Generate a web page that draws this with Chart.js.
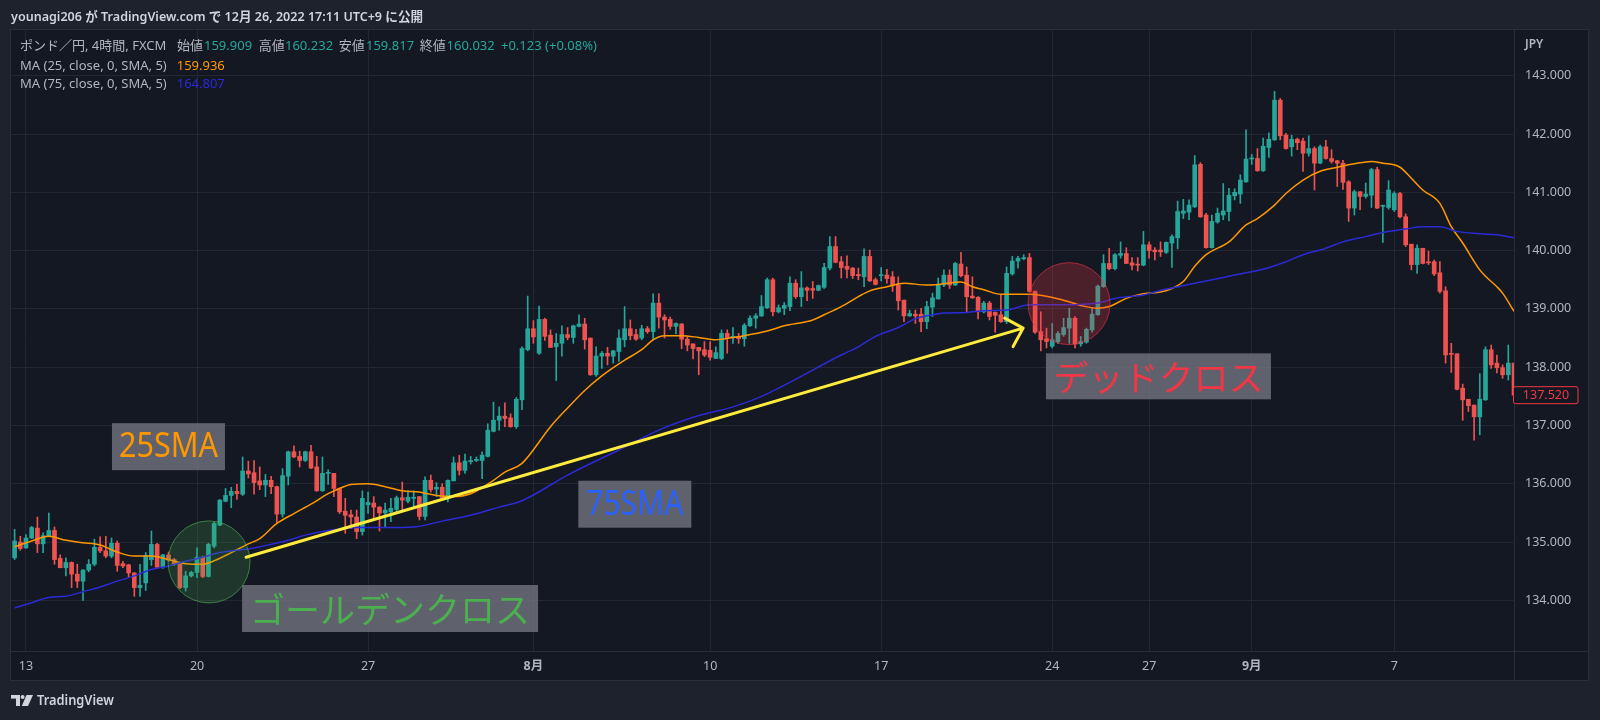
<!DOCTYPE html>
<html>
<head>
<meta charset="utf-8">
<title>GBPJPY 4h</title>
<script src="https://cdn.jsdelivr.net/npm/chart.js@4.4.1/dist/chart.umd.min.js"></script>
<style>
html,body{margin:0;padding:0;background:#1e222d}
canvas{display:block}
</style>
</head>
<body>
<canvas id="chart" width="1600" height="720"></canvas>
<script>
// time axis: candle index of each day label
var dayLabels = ["13", "20", "27", "8月", "10", "17", "24", "27", "9月", "7"];
var dayTickIdx = [2, 32, 62, 91, 122, 152, 182, 199, 217, 242];
var priceTicks = [134, 135, 136, 137, 138, 139, 140, 141, 142, 143];

// 4h candles, GBP/JPY (FXCM)
var openP = [
134.73,135.00,134.90,135.07,135.24,134.97,135.10,135.20,134.72,134.56,
134.65,134.45,134.33,134.52,134.62,134.91,134.85,134.76,134.98,134.63,
134.61,134.47,134.22,134.30,134.70,134.96,134.57,134.78,134.70,134.62,
134.22,134.42,134.48,134.74,134.41,134.93,135.29,135.70,135.80,135.87,
135.82,136.22,136.19,136.05,135.98,136.06,135.95,135.48,136.13,136.55,
136.47,136.40,136.55,136.29,135.88,136.18,136.18,135.92,135.53,135.47,
135.43,135.18,135.64,135.67,135.60,135.50,135.52,135.56,135.76,135.70,
135.75,135.78,135.44,136.06,135.91,135.94,135.75,136.05,136.36,136.23,
136.38,136.40,136.40,136.47,136.90,137.09,137.16,137.13,136.98,137.44,
138.30,138.66,138.24,138.82,138.55,138.35,138.41,138.56,138.51,138.70,
138.74,138.50,137.87,138.19,138.24,138.19,138.27,138.47,138.66,138.56,
138.50,138.66,138.61,139.10,138.86,138.82,138.70,138.74,138.48,138.40,
138.34,138.30,138.29,138.15,138.15,138.58,138.51,138.53,138.49,138.71,
138.84,138.88,139.02,139.50,138.95,139.01,139.04,139.44,139.21,139.36,
139.35,139.32,139.37,139.70,140.07,139.81,139.73,139.70,139.59,139.55,
139.90,139.50,139.57,139.58,139.55,139.41,139.15,138.88,138.91,138.91,
138.78,139.03,139.17,139.41,139.58,139.41,139.77,139.58,139.22,139.20,
138.95,139.10,138.94,138.90,138.78,139.60,139.82,139.86,139.88,139.30,
138.61,138.49,138.36,138.44,138.56,138.67,138.84,138.40,138.43,138.64,
138.90,139.38,139.78,139.69,139.92,139.95,139.79,139.76,139.75,140.10,
140.01,140.01,139.97,140.13,140.22,140.64,140.66,140.75,141.48,140.61,
140.05,140.49,140.61,140.67,140.94,140.97,141.18,141.57,141.58,141.37,
141.77,141.90,142.58,141.98,141.78,141.91,141.88,141.67,141.75,141.50,
141.78,141.58,141.54,141.50,141.18,140.73,141.01,140.93,140.95,141.39,
140.76,140.74,140.70,140.98,140.58,140.11,139.76,140.04,139.80,139.81,
139.62,139.31,138.23,138.23,137.64,137.45,137.35,137.15,137.44,138.30,
138.07,137.99,137.87,138.07];
var highP = [
135.22,135.10,135.13,135.27,135.43,135.16,135.50,135.26,134.78,134.73,
134.66,134.62,134.53,134.70,135.05,135.09,135.10,135.07,135.02,134.67,
134.62,134.48,134.62,134.82,135.19,134.98,134.79,134.83,134.72,134.64,
134.50,134.50,134.90,134.76,134.98,135.34,135.73,135.92,135.94,135.99,
136.46,136.39,136.40,136.29,136.16,136.13,135.96,136.26,136.56,136.65,
136.56,136.56,136.66,136.47,136.46,136.24,136.18,135.93,135.75,135.55,
135.55,135.88,135.86,135.78,135.61,135.67,135.75,135.79,136.03,135.88,
135.88,135.78,136.12,136.15,136.02,136.00,136.07,136.46,136.49,136.51,
136.47,136.46,136.55,137.03,137.40,137.32,137.39,137.20,137.48,138.35,
139.22,138.80,139.05,138.84,138.64,138.58,138.71,138.68,138.72,138.90,
138.84,138.50,138.35,138.27,138.34,138.29,138.64,139.04,138.81,138.65,
138.72,138.70,139.26,139.26,138.90,138.86,138.76,138.75,138.52,138.40,
138.34,138.44,138.44,138.35,138.64,138.64,138.68,138.58,138.75,138.88,
138.92,139.23,139.53,139.53,139.07,139.11,139.55,139.50,139.64,139.38,
139.47,139.41,139.78,140.24,140.24,139.90,139.91,139.71,139.70,140.03,
140.01,139.53,139.71,139.68,139.64,139.55,139.15,138.98,138.98,139.01,
139.13,139.27,139.53,139.67,139.67,139.80,139.97,139.72,139.55,139.21,
139.13,139.13,138.95,139.24,139.72,139.90,139.90,139.93,139.95,139.31,
138.95,138.67,138.75,138.61,138.84,139.01,138.87,138.53,138.67,139.01,
139.41,139.93,140.04,139.95,140.15,140.05,139.88,139.88,140.33,140.15,
140.05,140.15,140.15,140.27,140.85,140.88,140.87,141.63,141.51,140.64,
140.61,140.73,141.15,141.07,141.06,141.30,142.07,141.65,141.75,141.93,
142.02,142.73,142.61,142.01,141.98,141.93,141.93,141.97,141.78,141.81,
141.89,141.73,141.55,141.55,141.20,141.04,141.01,141.16,141.41,141.43,
140.78,141.20,141.01,141.00,140.63,140.11,140.10,140.04,139.99,139.84,
139.81,139.38,138.41,138.23,137.71,137.45,137.35,137.89,138.35,138.38,
138.21,138.04,138.38,138.07];
var lowP = [
134.70,134.86,134.89,135.06,134.82,134.82,135.09,134.62,134.56,134.42,
134.22,134.22,134.00,134.49,134.59,134.82,134.73,134.73,134.50,134.56,
134.40,134.07,134.07,134.17,134.60,134.55,134.55,134.67,134.60,134.20,
134.16,134.40,134.39,134.39,134.40,134.90,135.28,135.69,135.59,135.73,
135.80,136.10,135.82,135.90,135.78,135.83,135.32,135.43,135.98,136.45,
136.29,136.38,136.26,135.87,135.87,135.99,135.78,135.49,135.15,135.23,
135.06,135.12,135.49,135.40,135.19,135.26,135.35,135.50,135.55,135.67,
135.60,135.38,135.38,135.86,135.78,135.72,135.69,136.05,136.15,136.18,
136.34,136.38,136.09,136.46,136.89,136.92,136.98,136.97,136.95,137.27,
138.28,138.41,138.22,138.46,138.34,137.77,138.19,138.47,138.41,138.69,
138.31,137.86,137.84,137.98,138.04,138.07,138.10,138.35,138.47,138.46,
138.47,138.58,138.47,138.67,138.50,138.65,138.57,138.32,138.28,138.14,
137.87,138.18,138.12,138.15,138.13,138.24,138.41,138.41,138.36,138.70,
138.67,138.87,139.01,138.88,138.93,138.90,138.97,139.18,139.04,139.14,
139.18,139.31,139.35,139.67,139.79,139.53,139.53,139.52,139.50,139.38,
139.47,139.41,139.48,139.44,139.30,138.98,138.78,138.87,138.75,138.61,
138.66,138.87,139.17,139.38,139.35,139.40,139.55,138.95,139.18,138.83,
138.93,138.81,138.60,138.77,138.75,139.58,139.70,139.84,139.29,138.58,
138.28,138.33,138.33,138.41,138.53,138.41,138.33,138.36,138.41,138.60,
138.89,139.37,139.67,139.67,139.87,139.78,139.67,139.65,139.74,139.87,
139.84,139.90,139.95,139.71,140.03,140.55,140.53,140.74,140.57,140.04,
140.04,140.47,140.53,140.51,140.87,140.81,141.17,141.48,141.36,141.36,
141.60,141.89,141.90,141.74,141.62,141.73,141.36,141.62,141.04,141.49,
141.57,141.50,141.10,141.05,140.50,140.61,140.70,140.90,140.74,140.72,
140.14,140.71,140.67,140.56,140.07,139.67,139.61,139.77,139.76,139.57,
139.27,138.07,137.91,137.61,137.09,137.24,136.75,136.84,137.43,137.98,
137.90,137.81,137.78,137.50];
var closeP = [
135.02,134.89,135.07,135.25,134.97,135.11,135.20,134.70,134.56,134.65,
134.45,134.33,134.52,134.62,134.91,134.85,134.76,134.98,134.60,134.59,
134.47,134.22,134.26,134.77,134.96,134.57,134.78,134.69,134.62,134.22,
134.42,134.48,134.74,134.41,134.96,135.32,135.72,135.80,135.87,135.83,
136.22,136.17,136.02,135.98,136.06,135.95,135.48,136.14,136.55,136.46,
136.40,136.55,136.27,135.88,136.18,136.19,135.92,135.52,135.46,135.43,
135.18,135.75,135.68,135.60,135.50,135.55,135.58,135.76,135.72,135.77,
135.77,135.44,136.06,135.90,135.94,135.75,136.06,136.36,136.23,136.39,
136.40,136.42,136.49,136.92,137.09,137.16,137.12,136.98,137.45,138.32,
138.66,138.52,138.82,138.53,138.34,138.41,138.56,138.51,138.71,138.74,
138.47,137.87,138.19,138.24,138.19,138.28,138.50,138.66,138.54,138.48,
138.66,138.61,139.10,138.86,138.81,138.70,138.75,138.48,138.38,138.32,
138.28,138.21,138.17,138.25,138.58,138.50,138.53,138.49,138.72,138.84,
138.88,139.04,139.50,138.95,139.02,139.06,139.44,139.21,139.36,139.32,
139.32,139.40,139.71,140.07,139.80,139.71,139.68,139.57,139.57,139.90,
139.48,139.42,139.58,139.52,139.40,139.14,138.88,138.92,138.88,138.78,
139.04,139.19,139.42,139.58,139.41,139.78,139.57,139.21,139.19,138.95,
139.10,138.87,138.89,138.78,139.61,139.82,139.87,139.88,139.30,138.60,
138.47,138.44,138.47,138.58,138.68,138.84,138.40,138.44,138.65,138.91,
139.39,139.78,139.69,139.93,139.95,139.78,139.75,139.75,140.10,140.00,
139.98,139.98,140.14,140.24,140.67,140.68,140.78,141.47,140.58,140.05,
140.50,140.64,140.68,140.95,141.00,141.21,141.57,141.59,141.37,141.79,
141.91,142.58,141.97,141.75,141.91,141.85,141.67,141.75,141.50,141.78,
141.58,141.53,141.50,141.17,140.73,141.01,140.93,140.97,141.39,140.73,
140.77,141.04,140.98,140.58,140.10,139.76,140.04,139.78,139.79,139.60,
139.30,138.21,138.22,137.62,137.44,137.34,137.15,137.45,138.30,138.04,
137.99,137.87,138.07,137.52];

// moving averages at these candle indices
var ma25Idx = [0,3,6,9,12,15,18,21,24,27,30,33,35,38,41,43,46,49,52,55,57,59,62,65,68,71,74,77,80,84,86,89,94,97,100,103,107,110,112,114,117,120,123,126,128,132,135,140,142,145,148,150,153,156,160,162,166,168,170,173,178,184,187,190,192,195,198,201,203,205,207,209,213,216,218,221,223,226,229,232,235,238,240,243,245,247,250,252,254,257,258,260,261,263];
var ma25Val = [134.92,135.02,135.10,135.03,134.99,134.95,134.83,134.76,134.76,134.70,134.63,134.62,134.68,134.82,134.97,135.06,135.32,135.49,135.65,135.83,135.92,135.99,136.00,135.95,135.88,135.86,135.80,135.78,135.83,136.06,136.20,136.35,136.98,137.30,137.60,137.85,138.12,138.30,138.47,138.54,138.54,138.51,138.47,138.51,138.54,138.62,138.71,138.81,138.90,139.04,139.21,139.31,139.38,139.44,139.41,139.42,139.46,139.38,139.33,139.25,139.25,139.15,139.06,139.01,139.04,139.18,139.26,139.29,139.35,139.47,139.73,139.93,140.15,140.44,140.55,140.78,140.98,141.21,141.36,141.43,141.49,141.53,141.50,141.43,141.24,141.04,140.81,140.41,140.13,139.67,139.56,139.38,139.27,138.96];
var ma75Idx = [0,3,6,9,12,15,18,21,24,27,30,33,36,39,42,48,51,55,57,60,65,70,75,80,85,89,97,106,113,120,126,131,145,148,151,155,158,161,163,167,170,174,178,184,190,193,198,202,207,212,216,219,223,226,230,233,237,240,244,247,250,253,257,260,263];
var ma75Val = [133.87,133.96,134.05,134.07,134.15,134.23,134.33,134.42,134.53,134.59,134.67,134.74,134.82,134.86,134.90,135.03,135.12,135.20,135.22,135.25,135.25,135.26,135.36,135.46,135.60,135.71,136.15,136.58,136.92,137.17,137.32,137.50,138.21,138.35,138.53,138.68,138.83,138.90,138.93,138.94,138.97,138.98,139.07,139.07,139.10,139.18,139.24,139.34,139.44,139.54,139.62,139.68,139.81,139.93,140.04,140.15,140.24,140.31,140.37,140.41,140.41,140.33,140.29,140.27,140.22];

!function() {
    "use strict";
    var UI = '"Noto Sans", "Noto Sans CJK JP", sans-serif',
        JP = '"Noto Sans CJK JP", "Noto Sans", sans-serif',
        UP = "#26a69a", DN = "#ef5350", AXIS = "#b2b5be", GRID = "#232733",
        PANE = "#141823", LINE = "#2a2e39";

    var idx = openP.map(function(o, i) { return i });
    var col = idx.map(function(i) { return closeP[i] >= openP[i] ? UP : DN });

    // drawings on the chart, anchored at candle index / price
    var circles = [
        { i: 34.1, v: 134.66, r: 41, fill: "rgba(76,175,80,0.2)", line: "rgba(76,175,80,0.65)" },
        { i: 184.95, v: 139.09, r: 41, fill: "rgba(242,54,69,0.25)", line: "rgba(242,54,69,0.6)" }
    ];
    var arrow = { i0: 40.6, v0: 134.74, i1: 176.9, v1: 138.67, color: "#ffeb3b" };
    var boxes = [
        { t: "25SMA", i: 17.08, v: 137.04, w: 113, h: 47, c: "#ff9800", f: '34px "Noto Sans"', tw: 99 },
        { t: "75SMA", i: 98.88, v: 136.053, w: 113, h: 47, c: "#2962ff", f: '34px "Noto Sans"', tw: 97 },
        { t: "ゴールデンクロス", i: 39.9, v: 134.264, w: 296, h: 47, c: "#4caf50", f: "35px " + JP, tw: 282 },
        { t: "デッドクロス", i: 180.9, v: 138.238, w: 225, h: 46, c: "#f23645", f: "35px " + JP, tw: 212 }
    ];

    function text(ctx, s, x, y, color, font, align, maxW) {
        ctx.fillStyle = color;
        ctx.font = font;
        ctx.textAlign = align || "left";
        ctx.textBaseline = "middle";
        if (maxW) ctx.fillText(s, x, y, maxW); else ctx.fillText(s, x, y);
    }

    var decor = {
        id: "decor",
        beforeDraw: function(c) {
            var o = c.ctx;
            o.save();
            o.fillStyle = "#1e222d";
            o.fillRect(0, 0, c.width, c.height);
            o.fillStyle = PANE;
            o.fillRect(11, 30, 1577, 650);
            o.restore();
        },
        afterDatasetsDraw: function(c) {
            var o = c.ctx, xs = c.scales.x, ys = c.scales.y;
            o.save();
            circles.forEach(function(k) {
                o.beginPath();
                o.arc(xs.getPixelForValue(k.i), ys.getPixelForValue(k.v), k.r, 0, 2 * Math.PI);
                o.fillStyle = k.fill;
                o.fill();
                o.lineWidth = 1;
                o.strokeStyle = k.line;
                o.stroke();
            });
            // yellow arrow
            var x0 = xs.getPixelForValue(arrow.i0), y0 = ys.getPixelForValue(arrow.v0),
                x1 = xs.getPixelForValue(arrow.i1), y1 = ys.getPixelForValue(arrow.v1),
                a = Math.atan2(y1 - y0, x1 - x0);
            o.strokeStyle = arrow.color;
            o.lineWidth = 3;
            o.lineCap = "round";
            o.lineJoin = "round";
            o.beginPath();
            o.moveTo(x0, y0);
            o.lineTo(x1, y1);
            o.moveTo(x1 - 21 * Math.cos(a - Math.PI / 4), y1 - 21 * Math.sin(a - Math.PI / 4));
            o.lineTo(x1, y1);
            o.lineTo(x1 - 21 * Math.cos(a + Math.PI / 4), y1 - 21 * Math.sin(a + Math.PI / 4));
            o.stroke();
            boxes.forEach(function(b) {
                var bx = xs.getPixelForValue(b.i), by = ys.getPixelForValue(b.v);
                o.fillStyle = "rgba(120,123,134,0.75)";
                o.fillRect(bx, by, b.w, b.h);
                text(o, b.t, bx + b.w / 2, by + b.h / 2 + 1, b.c, b.f, "center", b.tw);
            });
            o.restore();
        },
        afterDraw: function(c) {
            var o = c.ctx, ys = c.scales.y;
            o.save();
            // pane frame and axis separators
            o.strokeStyle = LINE;
            o.lineWidth = 1;
            o.strokeRect(10.5, 29.5, 1578, 651);
            o.beginPath();
            o.moveTo(1514.5, 30); o.lineTo(1514.5, 680);
            o.moveTo(11, 651.5); o.lineTo(1588, 651.5);
            o.stroke();

            text(o, "younagi206 が TradingView.com で 12月 26, 2022 17:11 UTC+9 に公開", 11, 17.5, "#d1d4dc", "600 13px " + UI, "left", 412);

            var g = "#26a69a";
            [
                [20, 46.7, "ポンド／円, 4時間, FXCM", AXIS], [177, 46.7, "始値", AXIS], [204, 46.7, "159.909", g],
                [258.7, 46.7, "高値", AXIS], [285, 46.7, "160.232", g], [338.7, 46.7, "安値", AXIS],
                [366, 46.7, "159.817", g], [419.8, 46.7, "終値", AXIS], [446.6, 46.7, "160.032", g],
                [501, 46.7, "+0.123 (+0.08%)", g],
                [20, 66, "MA (25, close, 0, SMA, 5)", AXIS], [176.7, 66, "159.936", "#ff9800"],
                [20, 84, "MA (75, close, 0, SMA, 5)", AXIS], [176.7, 84, "164.807", "#2a2ad6"]
            ].forEach(function(p) { text(o, p[2], p[0], p[1], p[3], "13px " + UI) });

            text(o, "JPY", 1525, 45, AXIS, "600 12px " + UI);

            // last price tag
            var py = ys.getPixelForValue(closeP[closeP.length - 1]);
            o.fillStyle = PANE;
            o.beginPath();
            o.roundRect(1513.5, py - 8.5, 64.5, 17, 2);
            o.fill();
            o.strokeStyle = "#f23645";
            o.stroke();
            text(o, closeP[closeP.length - 1].toFixed(3), 1546, py + 0.5, "#f23645", "12.5px " + UI, "center");

            // TradingView mark
            o.fillStyle = "#d1d4dc";
            o.fillRect(11, 695, 9, 3.6);
            o.fillRect(16, 695, 4, 11);
            o.beginPath(); o.arc(22.6, 697, 2, 0, 2 * Math.PI); o.fill();
            o.beginPath();
            o.moveTo(26.5, 695); o.lineTo(33, 695); o.lineTo(28, 706); o.lineTo(21.8, 706);
            o.closePath(); o.fill();
            text(o, "TradingView", 37, 701, "#d1d4dc", "600 14px " + UI, "left", 77);
            o.restore();
        }
    };

    new Chart(document.getElementById("chart"), {
        type: "bar",
        data: {
            datasets: [{
                label: "wick",
                data: idx.map(function(i) { return { x: i, y: [lowP[i], highP[i]] } }),
                backgroundColor: col,
                barThickness: 1,
                grouped: false,
                order: 3
            }, {
                label: "body",
                data: idx.map(function(i) { return { x: i, y: [openP[i], closeP[i]] } }),
                backgroundColor: col,
                barThickness: 4,
                minBarLength: 1,
                grouped: false,
                order: 2
            }, {
                type: "line",
                label: "MA25",
                data: ma25Idx.map(function(i, k) { return { x: i, y: ma25Val[k] } }),
                borderColor: "#ff9800",
                borderWidth: 1.5,
                pointRadius: 0,
                cubicInterpolationMode: "monotone",
                order: 1
            }, {
                type: "line",
                label: "MA75",
                data: ma75Idx.map(function(i, k) { return { x: i, y: ma75Val[k] } }),
                borderColor: "#2a2ad6",
                borderWidth: 1.5,
                pointRadius: 0,
                cubicInterpolationMode: "monotone",
                order: 0
            }]
        },
        options: {
            responsive: false,
            animation: false,
            devicePixelRatio: 1,
            events: [],
            layout: { padding: { left: 11, right: 12, top: 30, bottom: 40 } },
            plugins: { legend: { display: false }, tooltip: { enabled: false } },
            scales: {
                x: {
                    type: "linear",
                    min: -0.63,
                    max: 263.0,
                    offset: false,
                    grid: { color: GRID, drawTicks: false, offset: false },
                    border: { display: false },
                    afterBuildTicks: function(s) { s.ticks = dayTickIdx.map(function(v) { return { value: v } }) },
                    afterFit: function(s) { s.height = 29 },
                    ticks: {
                        autoSkip: false,
                        maxRotation: 0,
                        padding: 8,
                        color: AXIS,
                        font: function(ctx) {
                            var bold = ctx.index != null && /月/.test(dayLabels[ctx.index]);
                            return { family: UI, size: 12.5, weight: bold ? "bold" : "normal" };
                        },
                        callback: function(v, i) { return dayLabels[i] }
                    }
                },
                y: {
                    type: "linear",
                    position: "right",
                    min: 133.132,
                    max: 143.784,
                    grid: { color: GRID, drawTicks: false },
                    border: { display: false },
                    afterBuildTicks: function(s) { s.ticks = priceTicks.map(function(v) { return { value: v } }) },
                    afterFit: function(s) { s.width = 74 },
                    ticks: {
                        padding: 11,
                        color: AXIS,
                        font: { family: UI, size: 12.5 },
                        callback: function(v) { return Number(v).toFixed(3) }
                    }
                }
            }
        },
        plugins: [decor]
    });
}();
</script>
</body>
</html>
